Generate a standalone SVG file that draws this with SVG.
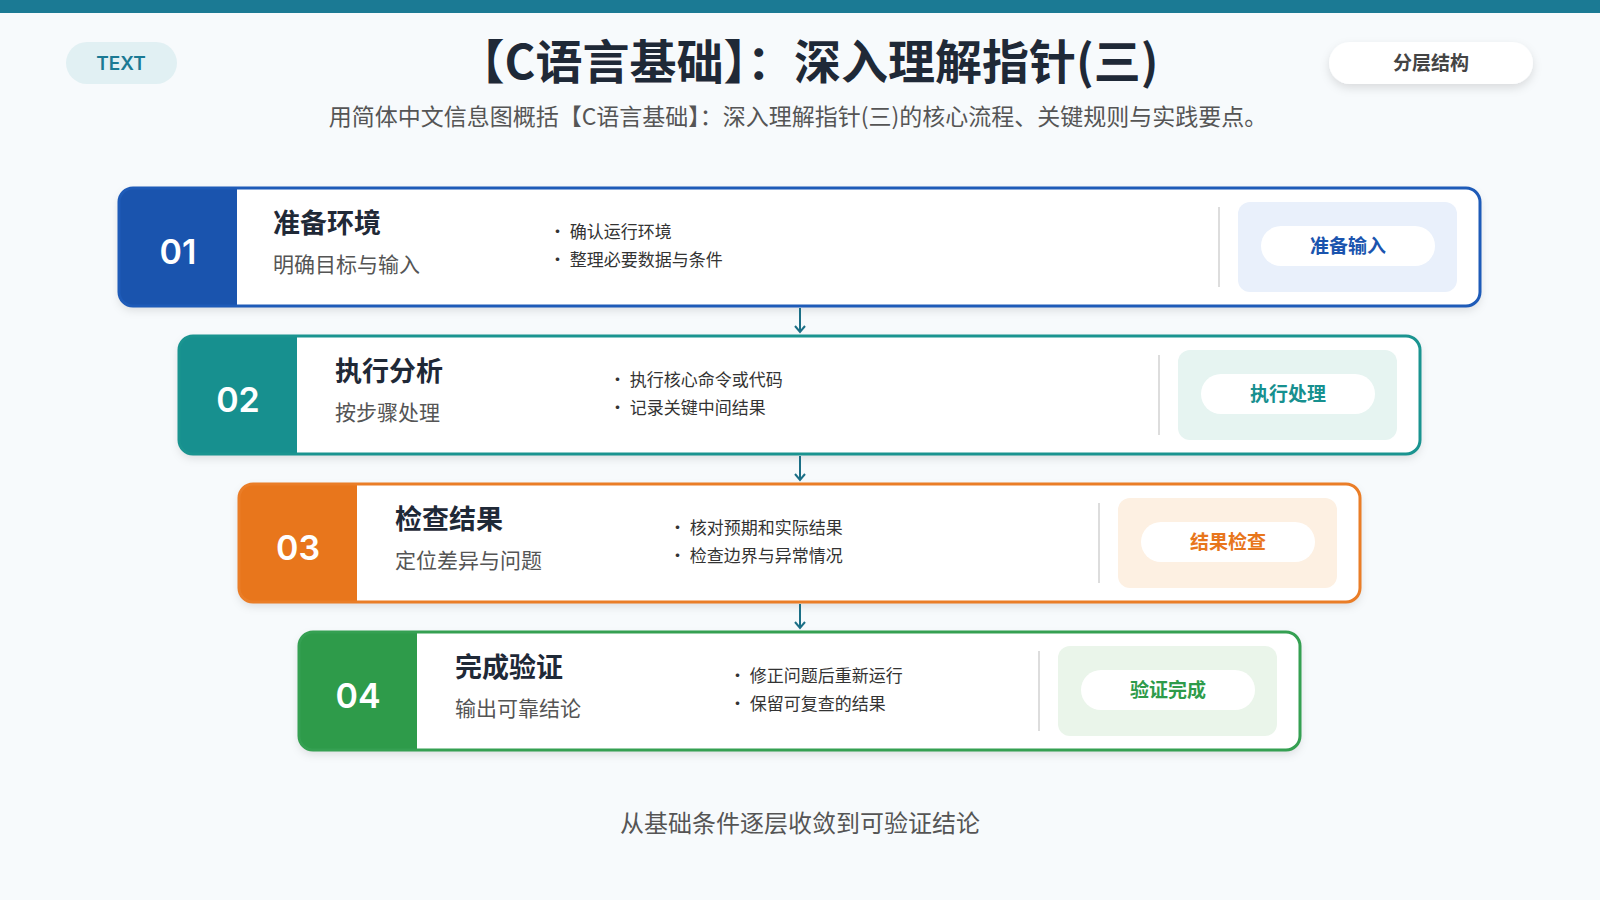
<svg xmlns="http://www.w3.org/2000/svg" width="1600" height="900" viewBox="0 0 1600 900">
<defs>
<style>
text{font-family:"Noto Sans CJK SC","Noto Sans",sans-serif}
.num{font-family:"Inter","Noto Sans",sans-serif;font-size:34px;font-weight:600;fill:#fff}
.t{font-size:27px;font-weight:700;fill:#1f2937}
.s{font-size:21px;fill:#555}
.b{font-size:17px;fill:#333}
.tag{font-size:19px;font-weight:700;text-anchor:middle}
.div{stroke:#ddd;stroke-width:2}
</style>
<filter id="sh" x="-5%" y="-20%" width="110%" height="150%"><feDropShadow dx="0" dy="4" stdDeviation="5" flood-color="#000" flood-opacity="0.12"/></filter>
<marker id="ar" markerWidth="12" markerHeight="12" refX="10" refY="6" orient="auto" markerUnits="userSpaceOnUse"><path d="M4,1 L10,6 L4,11" fill="none" stroke="#1b6f86" stroke-width="2"/></marker>
<clipPath id="c1"><rect x="119" y="188" width="1361" height="118" rx="14"/></clipPath>
<clipPath id="c2"><rect x="179" y="336" width="1241" height="118" rx="14"/></clipPath>
<clipPath id="c3"><rect x="239" y="484" width="1121" height="118" rx="14"/></clipPath>
<clipPath id="c4"><rect x="299" y="632" width="1001" height="118" rx="14"/></clipPath>
</defs>
<rect width="1600" height="900" fill="#f7fafc"/>
<rect width="1600" height="13" fill="#1b7a94"/>
<g id="header">
<rect x="66" y="42" width="111" height="42" rx="21" fill="#e1f0f3"/>
<text x="121" y="70" text-anchor="middle" font-size="19" font-weight="600" fill="#1b7a94" style="font-family:Inter,sans-serif">TEXT</text>
<text x="808" y="79" text-anchor="middle" font-size="47" font-weight="700" fill="#1f2937">【C语言基础】：深入理解指针(三)</text>
<text x="798" y="125" text-anchor="middle" font-size="23" fill="#555">用简体中文信息图概括【C语言基础】：深入理解指针(三)的核心流程、关键规则与实践要点。</text>
<rect x="1329" y="42" width="204" height="42" rx="21" fill="#fff" filter="url(#sh)"/>
<text x="1431" y="70" text-anchor="middle" font-size="19" font-weight="600" fill="#444">分层结构</text>
</g>
<g id="n1">
<rect x="119" y="188" width="1361" height="118" rx="14" fill="#fff" filter="url(#sh)"/>
<rect x="119" y="188" width="118" height="118" fill="#1a54ae" clip-path="url(#c1)"/>
<rect x="119" y="188" width="1361" height="118" rx="14" fill="none" stroke="#1e5bb8" stroke-width="3"/>
<text x="178" y="264" class="num" text-anchor="middle">01</text>
<text x="273" y="233" class="t">准备环境</text>
<text x="273" y="272" class="s">明确目标与输入</text>
<text x="549" y="238" class="b">• 确认运行环境</text>
<text x="549" y="266" class="b">• 整理必要数据与条件</text>
<line x1="1219" y1="207" x2="1219" y2="287" class="div"/>
<rect x="1238" y="202" width="219" height="90" rx="12" fill="#e9f0fb"/>
<rect x="1261" y="226" width="174" height="40" rx="20" fill="#fff"/>
<text x="1348" y="253" class="tag" fill="#1a54ae">准备输入</text>
</g>
<g id="n2">
<rect x="179" y="336" width="1241" height="118" rx="14" fill="#fff" filter="url(#sh)"/>
<rect x="179" y="336" width="118" height="118" fill="#17908f" clip-path="url(#c2)"/>
<rect x="179" y="336" width="1241" height="118" rx="14" fill="none" stroke="#1a9490" stroke-width="3"/>
<text x="238" y="412" class="num" text-anchor="middle">02</text>
<text x="335" y="381" class="t">执行分析</text>
<text x="335" y="420" class="s">按步骤处理</text>
<text x="609" y="386" class="b">• 执行核心命令或代码</text>
<text x="609" y="414" class="b">• 记录关键中间结果</text>
<line x1="1159" y1="355" x2="1159" y2="435" class="div"/>
<rect x="1178" y="350" width="219" height="90" rx="12" fill="#e6f4f1"/>
<rect x="1201" y="374" width="174" height="40" rx="20" fill="#fff"/>
<text x="1288" y="401" class="tag" fill="#17908f">执行处理</text>
</g>
<g id="n3">
<rect x="239" y="484" width="1121" height="118" rx="14" fill="#fff" filter="url(#sh)"/>
<rect x="239" y="484" width="118" height="118" fill="#e8761c" clip-path="url(#c3)"/>
<rect x="239" y="484" width="1121" height="118" rx="14" fill="none" stroke="#ea7d27" stroke-width="3"/>
<text x="298" y="560" class="num" text-anchor="middle">03</text>
<text x="395" y="529" class="t">检查结果</text>
<text x="395" y="568" class="s">定位差异与问题</text>
<text x="669" y="534" class="b">• 核对预期和实际结果</text>
<text x="669" y="562" class="b">• 检查边界与异常情况</text>
<line x1="1099" y1="503" x2="1099" y2="583" class="div"/>
<rect x="1118" y="498" width="219" height="90" rx="12" fill="#fdf0e2"/>
<rect x="1141" y="522" width="174" height="40" rx="20" fill="#fff"/>
<text x="1228" y="549" class="tag" fill="#e8761c">结果检查</text>
</g>
<g id="n4">
<rect x="299" y="632" width="1001" height="118" rx="14" fill="#fff" filter="url(#sh)"/>
<rect x="299" y="632" width="118" height="118" fill="#2e9b4a" clip-path="url(#c4)"/>
<rect x="299" y="632" width="1001" height="118" rx="14" fill="none" stroke="#35a052" stroke-width="3"/>
<text x="358" y="708" class="num" text-anchor="middle">04</text>
<text x="455" y="677" class="t">完成验证</text>
<text x="455" y="716" class="s">输出可靠结论</text>
<text x="729" y="682" class="b">• 修正问题后重新运行</text>
<text x="729" y="710" class="b">• 保留可复查的结果</text>
<line x1="1039" y1="651" x2="1039" y2="731" class="div"/>
<rect x="1058" y="646" width="219" height="90" rx="12" fill="#eaf5ea"/>
<rect x="1081" y="670" width="174" height="40" rx="20" fill="#fff"/>
<text x="1168" y="697" class="tag" fill="#2e9b4a">验证完成</text>
</g>
<g id="connectors" stroke="#1b6f86" stroke-width="2" marker-end="url(#ar)">
<line x1="800" y1="308" x2="800" y2="332"/>
<line x1="800" y1="456" x2="800" y2="480"/>
<line x1="800" y1="604" x2="800" y2="628"/>
</g>
<text x="800" y="832" text-anchor="middle" font-size="24" fill="#555">从基础条件逐层收敛到可验证结论</text>
</svg>
